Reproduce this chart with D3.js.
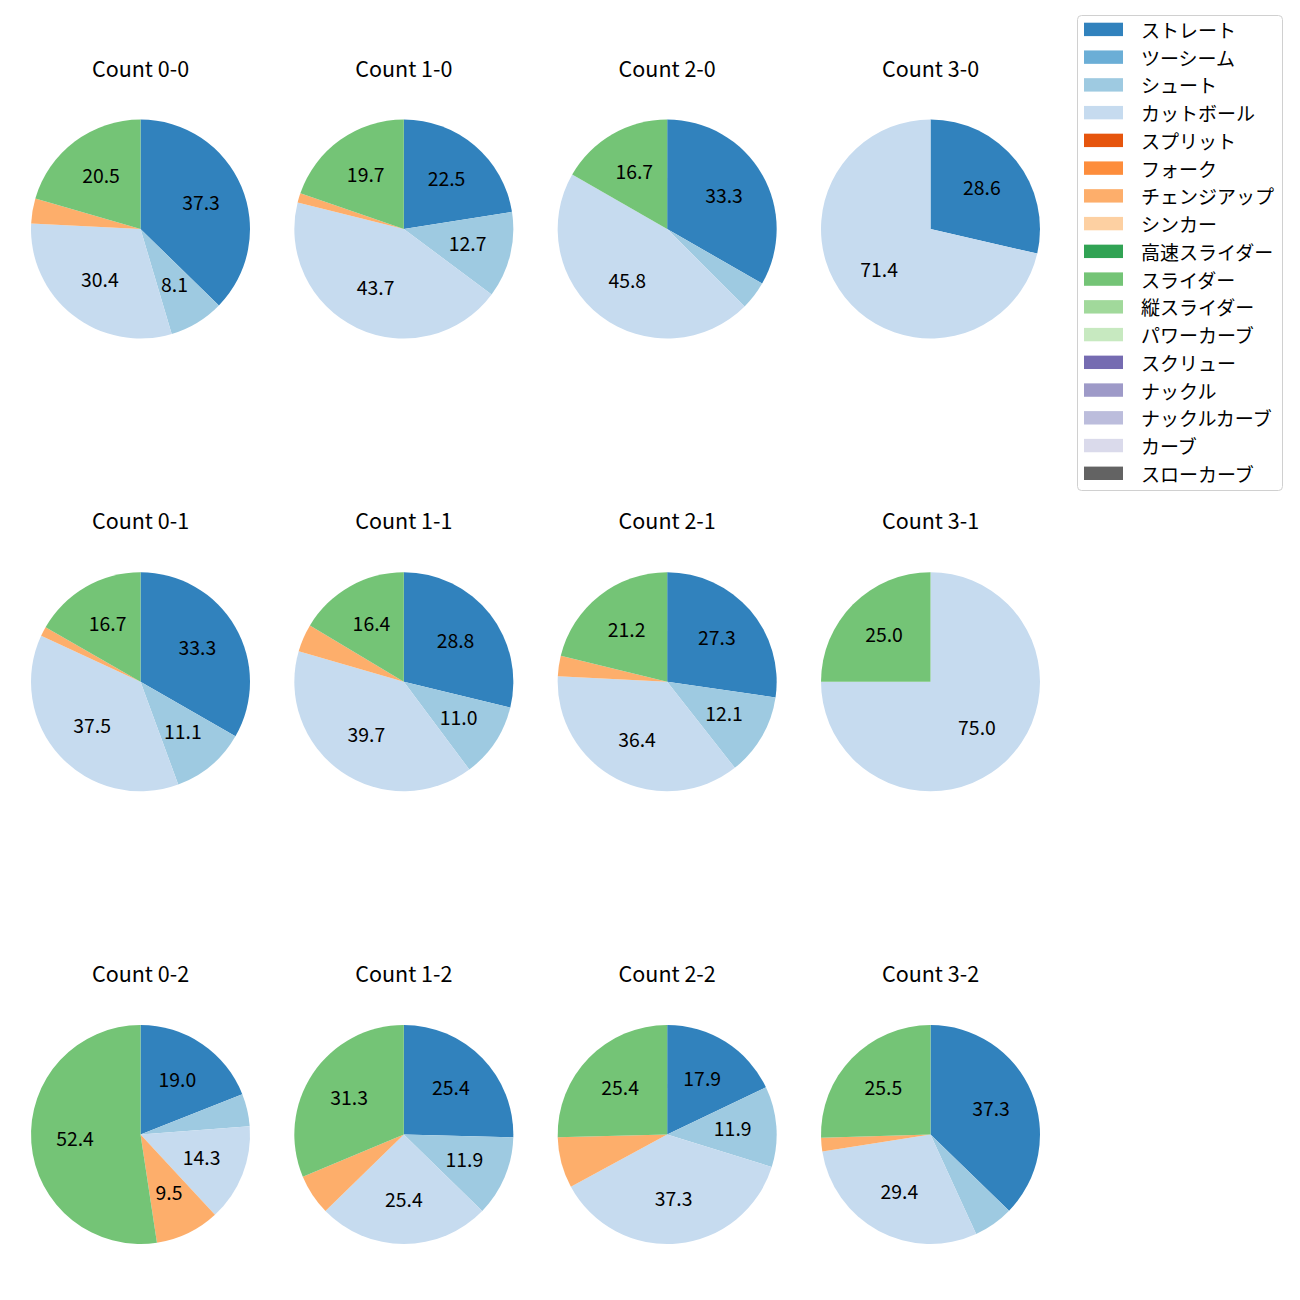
<!DOCTYPE html>
<html><head><meta charset="utf-8">
<script src="https://cdn.jsdelivr.net/npm/d3@7"></script>
<style>body{margin:0;background:#fff}svg{display:block}text{font-family:"Noto Sans CJK JP","Noto Sans",sans-serif;fill:#000}</style>
</head><body>
<svg id="c" width="1300" height="1300"></svg>
<script>
const countLabels = ["0-0","1-0","2-0","3-0","0-1","1-1","2-1","3-1","0-2","1-2","2-2","3-2"];
const pitchTypes = ["ストレート","ツーシーム","シュート","カットボール","スプリット","フォーク","チェンジアップ","シンカー","高速スライダー","スライダー","縦スライダー","パワーカーブ","スクリュー","ナックル","ナックルカーブ","カーブ","スローカーブ"];
const pitchColors = ["#3182bd","#6baed6","#9ecae1","#c6dbef","#e6550d","#fd8d3c","#fdae6b","#fdd0a2","#31a354","#74c476","#a1d99b","#c7e9c0","#756bb1","#9e9ac8","#bcbddc","#dadaeb","#636363"];
// shares (%) per count, in countLabels order
const straight = [37.3, 22.5, 33.3, 28.6, 33.3, 28.8, 27.3, 0, 19.0, 25.4, 17.9, 37.3];
const shoot    = [8.1, 12.7, 4.2, 0, 11.1, 11.0, 12.1, 0, 4.8, 11.9, 11.9, 5.9];
const cutter   = [30.4, 43.7, 45.8, 71.4, 37.5, 39.7, 36.4, 75.0, 14.3, 25.4, 37.3, 29.4];
const changeup = [3.7, 1.4, 0, 0, 1.4, 4.1, 3.0, 0, 9.5, 6.0, 7.5, 2.0];
const slider   = [20.5, 19.7, 16.7, 0, 16.7, 16.4, 21.2, 25.0, 52.4, 31.3, 25.4, 25.5];
const labelThreshold = 8;

const seriesByType = {"ストレート": straight, "シュート": shoot, "カットボール": cutter, "チェンジアップ": changeup, "スライダー": slider};
const color = d3.scaleOrdinal().domain(pitchTypes).range(pitchColors);

const svg = d3.select("#c");
const colX = d3.scalePoint().domain([0,1,2,3]).range([140.5, 930.5]);
const rowY = d3.scalePoint().domain([0,1,2]).range([229, 1134.5]);
const R = 109.5;
const arc = d3.arc().innerRadius(0).outerRadius(R);
const labelArc = d3.arc().innerRadius(R*0.6).outerRadius(R*0.6);
const pie = d3.pie().sort(null).value(d => d.v).startAngle(0).endAngle(2*Math.PI);

countLabels.forEach((cl, i) => {
  const cx = colX(i % 4), cy = rowY(Math.floor(i / 4));
  const data = pitchTypes.filter(t => seriesByType[t]).map(t => ({t, v: seriesByType[t][i]})).filter(d => d.v > 0);
  const g = svg.append("g").attr("transform", `translate(${cx},${cy})`);
  const arcs = pie(data);
  g.selectAll("path").data(arcs).enter().append("path")
    .attr("d", arc).attr("fill", d => color(d.data.t));
  g.selectAll("text.lbl").data(arcs.filter(d => d.data.v >= labelThreshold)).enter().append("text")
    .attr("class","lbl")
    .attr("transform", d => `translate(${labelArc.centroid(d)})`)
    .attr("text-anchor","middle").attr("dy","0.34em")
    .style("font-size","19.4px")
    .text(d => d.data.v.toFixed(1));
  g.append("text").attr("x",0).attr("y",-152.3).attr("text-anchor","middle")
    .style("font-size","21.5px").text("Count " + cl);
});

// legend
const lg = svg.append("g");
lg.append("rect").attr("x",1077.5).attr("y",15.5).attr("width",205).attr("height",475).attr("rx",4)
  .attr("fill","#fff").attr("fill-opacity",0.8).attr("stroke","#d0d0d0");
const ly = d3.scaleLinear().domain([0, pitchTypes.length-1]).range([29.4, 473.3]);
pitchTypes.forEach((t, i) => {
  lg.append("rect").attr("x",1084).attr("y",ly(i)-6.7).attr("width",39).attr("height",13.4).attr("fill",color(t));
  lg.append("text").attr("x",1141).attr("y",ly(i)).attr("dominant-baseline","central").style("font-size","19px").text(t);
});
</script>
</body></html>
